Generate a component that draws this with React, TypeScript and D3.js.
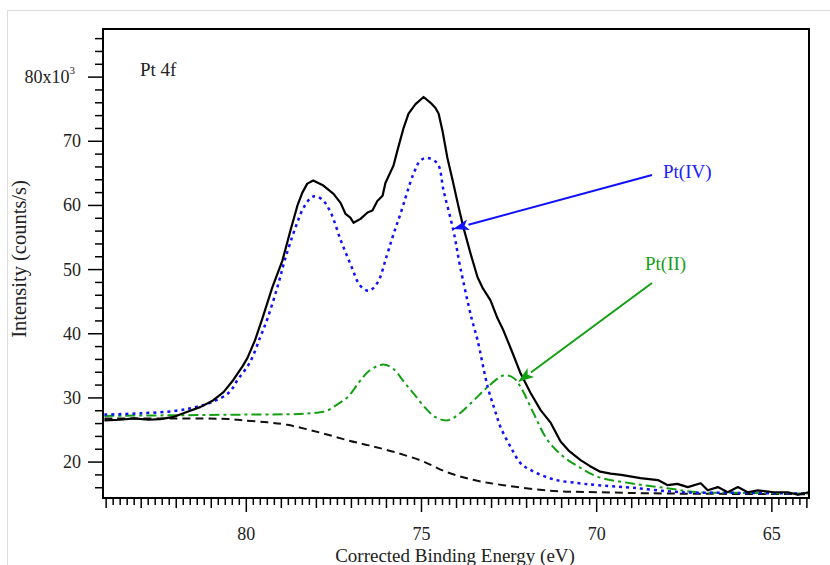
import { useEffect, useRef } from "react";
import * as d3 from "d3";

// measured spectrum (binding energy in eV, intensity in 10^3 counts/s)
const measuredEnergy = [
  84.05, 83.6, 83.2, 82.8, 82.46, 82.1, 81.7, 81.3, 80.95, 80.65, 80.37, 80.1,
  79.97, 79.75, 79.54, 79.26, 78.97, 78.74, 78.54, 78.4, 78.26, 78.09, 77.8,
  77.51, 77.31, 77.17, 77.03, 76.94, 76.74, 76.54, 76.4, 76.26, 76.11, 76.03,
  75.8, 75.69, 75.51, 75.37, 75.17, 74.94, 74.74, 74.6, 74.51, 74.4, 74.26,
  74.11, 73.94, 73.8, 73.6, 73.4, 73.26, 73.03, 72.83, 72.66, 72.4, 72.17,
  71.89, 71.6, 71.31, 71.03, 70.8, 70.46, 70.2, 69.9, 69.6, 69.3, 68.75, 68.25,
  67.97, 67.7, 67.4, 67.03, 66.83, 66.54, 66.26, 65.97, 65.69, 65.4, 64.94,
  64.54, 64.26, 63.95,
];
const measured = [
  26.5, 26.6, 26.8, 26.6, 26.7, 27.0, 27.8, 28.6, 29.6, 30.9, 32.8, 35.0, 36.2,
  39.0, 42.4, 47.2, 51.4, 56.1, 60.0, 62.0, 63.4, 63.9, 63.1, 61.8, 60.4, 58.7,
  58.1, 57.3, 57.9, 58.9, 59.2, 60.7, 61.5, 63.5, 66.2, 68.5, 72.1, 74.3, 75.8,
  76.9, 76.0, 75.2, 74.3, 71.6, 67.4, 63.9, 59.7, 56.5, 52.5, 48.8, 47.2, 45.2,
  42.4, 40.5, 37.0, 33.8, 30.8, 28.1, 26.1, 23.2, 21.8, 20.3, 19.4, 18.5, 18.2,
  18.0, 17.5, 17.2, 16.4, 16.6, 16.1, 16.7, 15.6, 16.1, 15.3, 16.1, 15.3, 15.6,
  15.3, 15.3, 14.9, 15.3,
];

// Pt(IV) component envelope
const ptIVEnergy = [
  84.05, 83.0, 82.0, 81.5, 81.0, 80.5, 80.25, 79.9, 79.6, 79.4, 79.1, 78.9,
  78.6, 78.35, 78.09, 77.85, 77.6, 77.3, 77.0, 76.75, 76.5, 76.25, 76.0, 75.8,
  75.6, 75.23, 75.03, 74.83, 74.54, 74.37, 74.09, 73.89, 73.57, 73.4, 73.11,
  72.9, 72.74, 72.45, 72.17, 71.9, 71.23, 70.5, 69.97, 69.0, 67.6, 66.0, 63.95,
];
const ptIV = [
  27.4, 27.6, 28.0, 28.5, 29.3, 30.8, 32.8, 35.5, 39.5, 42.3, 47.5, 51.5, 56.5,
  59.8, 61.4, 61.0, 59.0, 54.5, 50.5, 47.5, 46.7, 48.0, 52.0, 55.5, 58.7, 64.9,
  67.0, 67.4, 66.5, 62.3, 56.1, 50.3, 42.4, 39.0, 31.7, 28.0, 25.4, 22.3, 19.8,
  18.8, 17.3, 16.7, 16.4, 16.0, 15.3, 15.2, 15.1,
];

// Pt(II) component envelope
const ptIIEnergy = [
  84.05, 82.0, 80.0, 78.5, 78.0, 77.7, 77.4, 77.11, 76.8, 76.5, 76.09, 75.8,
  75.5, 75.23, 74.9, 74.6, 74.26, 73.95, 73.51, 73.11, 72.66, 72.37, 72.17,
  71.8, 71.4, 70.94, 70.46, 69.97, 69.03, 68.09, 67.11, 66.0, 63.95,
];
const ptII = [
  27.2, 27.3, 27.4, 27.5, 27.7, 28.0, 29.0, 30.1, 32.3, 34.2, 35.2, 34.5, 32.5,
  30.7, 28.5, 27.0, 26.5, 27.4, 29.6, 31.7, 33.5, 33.1, 31.7, 27.6, 23.4, 20.8,
  19.1, 17.7, 16.7, 16.0, 15.3, 15.2, 15.1,
];

// background
const bgEnergy = [
  84.05, 82.0, 80.5, 80.09, 79.4, 78.83, 77.9, 77.11, 76.5, 75.8, 75.0, 74.26,
  73.5, 72.66, 71.23, 69.97, 68.0, 63.95,
];
const background = [
  26.8, 26.8, 26.7, 26.5, 26.2, 25.8, 24.6, 23.4, 22.6, 21.6, 20.2, 18.4, 17.2,
  16.4, 15.5, 15.3, 15.1, 15.0,
];

const yTickLabels = ["20", "30", "40", "50", "60", "70", "80"];
const xTickLabels = ["80", "75", "70", "65"];

const W = 830;
const H = 565;
const plot = { left: 103, top: 29, right: 809, bottom: 498 };
const serif = "'Liberation Serif', 'DejaVu Serif', serif";

export default function App() {
  const ref = useRef<SVGSVGElement>(null);

  useEffect(() => {
    const svg = d3.select(ref.current);
    svg.selectAll("*").remove();

    const x = d3.scaleLinear().domain([84.09, 63.94]).range([plot.left, plot.right]);
    const y = d3.scaleLinear().domain([14.4, 87.5]).range([plot.bottom, plot.top]);

    // light frame round the figure
    svg
      .append("rect")
      .attr("x", 7.5)
      .attr("y", 10.5)
      .attr("width", W)
      .attr("height", H)
      .attr("fill", "none")
      .attr("stroke", "#dcdcdc");

    const toPts = (es: number[], vs: number[]) => es.map((e, i) => [e, vs[i]] as [number, number]);

    const smooth = d3
      .line<[number, number]>()
      .x((d) => x(d[0]))
      .y((d) => y(d[1]))
      .curve(d3.curveCatmullRom.alpha(0.5));
    const jagged = d3
      .line<[number, number]>()
      .x((d) => x(d[0]))
      .y((d) => y(d[1]));

    const g = svg.append("g");

    g.append("path")
      .attr("d", smooth(toPts(bgEnergy, background)))
      .attr("fill", "none")
      .attr("stroke", "#111")
      .attr("stroke-width", 2)
      .attr("stroke-dasharray", "8 5");

    g.append("path")
      .attr("d", smooth(toPts(ptIIEnergy, ptII)))
      .attr("fill", "none")
      .attr("stroke", "#12a012")
      .attr("stroke-width", 2)
      .attr("stroke-dasharray", "10 4 3 4");

    g.append("path")
      .attr("d", smooth(toPts(ptIVEnergy, ptIV)))
      .attr("fill", "none")
      .attr("stroke", "#1010ff")
      .attr("stroke-width", 2.5)
      .attr("stroke-dasharray", "3 4");

    g.append("path")
      .attr("d", jagged(toPts(measuredEnergy, measured)))
      .attr("fill", "none")
      .attr("stroke", "#000")
      .attr("stroke-width", 2.2)
      .attr("stroke-linejoin", "round");

    // plot box
    svg
      .append("rect")
      .attr("x", plot.left)
      .attr("y", plot.top)
      .attr("width", plot.right - plot.left)
      .attr("height", plot.bottom - plot.top)
      .attr("fill", "none")
      .attr("stroke", "#000")
      .attr("stroke-width", 2);

    // x ticks every 0.2 eV, longer at whole eV and at every 5 eV
    const xg = svg.append("g").attr("transform", `translate(0,${plot.bottom})`);
    for (let k = 320; k <= 420; k++) {
      const e = k / 5;
      if (e > 84.09 || e < 63.94) continue;
      const len = k % 25 === 0 ? 14 : k % 5 === 0 ? 10 : 7;
      xg.append("line")
        .attr("x1", x(e))
        .attr("x2", x(e))
        .attr("y1", 0)
        .attr("y2", len)
        .attr("stroke", "#000")
        .attr("stroke-width", 1.5);
    }
    xTickLabels.forEach((t) => {
      xg.append("text")
        .attr("x", x(+t))
        .attr("y", 42)
        .attr("text-anchor", "middle")
        .attr("font-family", serif)
        .attr("font-size", 18)
        .attr("fill", "#222")
        .text(t);
    });

    // y ticks every 2k, labelled every 10k
    const yg = svg.append("g").attr("transform", `translate(${plot.left},0)`);
    for (let v = 16; v <= 86; v += 2) {
      const major = v % 10 === 0;
      yg.append("line")
        .attr("x1", major ? -15 : -8)
        .attr("x2", 0)
        .attr("y1", y(v))
        .attr("y2", y(v))
        .attr("stroke", "#000")
        .attr("stroke-width", 1.5);
    }
    yTickLabels.forEach((t, i) => {
      const txt = yg
        .append("text")
        .attr("x", -22)
        .attr("y", y(+t) + 6)
        .attr("text-anchor", "end")
        .attr("font-family", serif)
        .attr("font-size", 18)
        .attr("fill", "#222");
      if (i === yTickLabels.length - 1) {
        txt.attr("x", -28);
        txt.append("tspan").text(t + "x10");
        txt
          .append("tspan")
          .attr("font-size", 11)
          .attr("dy", -9)
          .text("3");
      } else {
        txt.text(t);
      }
    });

    // axis titles
    svg
      .append("text")
      .attr("x", 455)
      .attr("y", 562)
      .attr("text-anchor", "middle")
      .attr("font-family", serif)
      .attr("font-size", 19)
      .attr("fill", "#222")
      .text("Corrected Binding Energy (eV)");
    svg
      .append("text")
      .attr("transform", `translate(26,259) rotate(-90)`)
      .attr("text-anchor", "middle")
      .attr("font-family", serif)
      .attr("font-size", 20.5)
      .attr("fill", "#222")
      .text("Intensity (counts/s)");

    svg
      .append("text")
      .attr("x", 140)
      .attr("y", 76)
      .attr("font-family", serif)
      .attr("font-size", 19)
      .attr("fill", "#222")
      .text("Pt 4f");

    // annotations with arrows
    const arrow = (x1: number, y1: number, x2: number, y2: number, color: string) => {
      const a = Math.atan2(y2 - y1, x2 - x1);
      const hl = 16;
      const hw = 5.5;
      const bx = x2 - hl * Math.cos(a);
      const by = y2 - hl * Math.sin(a);
      svg
        .append("line")
        .attr("x1", x1)
        .attr("y1", y1)
        .attr("x2", bx)
        .attr("y2", by)
        .attr("stroke", color)
        .attr("stroke-width", 2);
      const px = -Math.sin(a) * hw;
      const py = Math.cos(a) * hw;
      svg
        .append("path")
        .attr("d", `M${x2},${y2}L${bx + px},${by + py}L${bx + 4 * Math.cos(a)},${by + 4 * Math.sin(a)}L${bx - px},${by - py}Z`)
        .attr("fill", color);
    };
    arrow(652, 175, 453, 229, "#1010ff");
    arrow(652, 283, 518, 382, "#12a012");

    svg
      .append("text")
      .attr("x", 663)
      .attr("y", 178)
      .attr("font-family", serif)
      .attr("font-size", 19)
      .attr("fill", "#2020ff")
      .text("Pt(IV)");
    svg
      .append("text")
      .attr("x", 645)
      .attr("y", 270)
      .attr("font-family", serif)
      .attr("font-size", 19)
      .attr("fill", "#18a018")
      .text("Pt(II)");
  }, []);

  return (
    <svg
      ref={ref}
      width={W}
      height={H}
      style={{ position: "absolute", left: 0, top: 0, background: "#fff" }}
    />
  );
}
